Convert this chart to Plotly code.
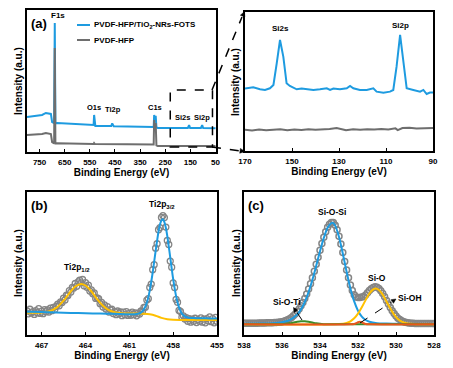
import math
import plotly.graph_objects as go

W, H = 453, 368
FONT = "Liberation Sans"
BLUE = "#1E9BE0"
GRAY = "#6E6E6E"
CIRC = "#858585"
YELL = "#FFC000"
GREEN = "#3C8C2A"
ORNG = "#E8561C"

# ---------------- (a) survey spectra ----------------
survey_fots_be = [800, 780, 760, 740, 725, 715, 705, 700, 695, 692,
                  689.5, 687, 680, 650, 600, 560, 545, 535, 533, 531,
                  528, 500, 465, 461, 457, 455, 400, 350, 300, 296,
                  294, 291, 288, 285, 280, 250, 200, 160, 155, 151,
                  108, 103, 99, 50]
survey_fots_int = [24.6, 25.0, 25.4, 26.1, 27.5, 27.1, 26.8, 21.1, 20.4, 20.4,
                   90.8, 20.3, 20.4, 20.1, 19.7, 19.4, 19.0, 19.0, 26.1, 18.6,
                   18.3, 18.3, 18.3, 20.1, 18.2, 18.1, 18.0, 17.9, 17.6, 17.6,
                   26.1, 21.8, 25.4, 17.3, 16.9, 16.9, 16.9, 16.9, 19.0, 16.9,
                   16.9, 19.0, 16.9, 16.8]
survey_pvdf_be = [800, 760, 740, 725, 712, 705, 700, 695, 692, 689.5,
                  687, 680, 600, 535, 533, 530, 400, 300, 296, 294,
                  291, 288, 285, 280, 50]
survey_pvdf_int = [12.0, 12.3, 12.7, 13.4, 13.0, 12.7, 7.0, 6.3, 6.1, 73.2,
                   6.0, 6.1, 5.8, 5.6, 6.3, 5.6, 5.5, 5.3, 5.3, 22.5,
                   15.5, 20.4, 4.6, 4.2, 4.2]
survey_ticks = [750, 650, 550, 450, 350, 250, 150, 50]

# ---------------- (a) Si region zoom ----------------
si_fots_be = [170, 169.6, 166.5, 163.6, 161.5, 159.4, 157.9, 156.5, 155.1, 153.7,
              152.3, 150.9, 148.0, 145.9, 143.8, 140.9, 138.1, 135.2, 133.8, 132.4,
              129.6, 126.7, 125.3, 123.9, 121.1, 118.2, 115.4, 114.0, 111.1, 108.3,
              106.9, 105.5, 104.0, 102.6, 101.2, 98.4, 95.5, 94.1, 92.7, 91.3, 90]
si_fots_int = [45.0, 45.1, 45.8, 44.4, 43.9, 45.1, 47.5, 63.1, 79.9, 67.9,
               48.7, 46.8, 44.4, 45.0, 44.4, 43.9, 44.4, 45.1, 43.9, 44.9,
               44.4, 45.1, 46.8, 45.1, 43.9, 43.9, 45.1, 42.7, 42.0, 42.7,
               43.9, 60.7, 83.5, 63.1, 45.1, 43.9, 42.7, 43.9, 41.0, 42.0, 42.0]
si_pvdf_be = [170, 167, 164, 161, 158, 155, 152, 149, 146, 143,
              140, 137, 134, 131, 129, 127, 124, 121, 118, 115,
              112, 109, 106, 105, 103, 100, 97, 94, 91, 90]
si_pvdf_int = [15.2, 14.8, 15.4, 15.0, 15.3, 15.6, 15.0, 15.4, 15.1, 15.6,
               15.3, 15.5, 15.8, 16.6, 15.9, 14.9, 15.6, 15.3, 15.7, 15.4,
               15.8, 15.5, 16.3, 15.0, 16.5, 16.8, 16.2, 16.4, 16.6, 16.5]
si_ticks = [170, 150, 130, 110, 90]

# ---------------- (b) Ti 2p ----------------
ti_be = [468.0, 467.9, 467.8, 467.7, 467.6, 467.5, 467.4, 467.3, 467.2, 467.1,
         467.0, 466.9, 466.8, 466.7, 466.6, 466.5, 466.4, 466.3, 466.2, 466.1,
         466.0, 465.9, 465.8, 465.7, 465.6, 465.5, 465.4, 465.3, 465.2, 465.1,
         465.0, 464.9, 464.8, 464.7, 464.6, 464.5, 464.4, 464.3, 464.2, 464.1,
         464.0, 463.9, 463.8, 463.7, 463.6, 463.5, 463.4, 463.3, 463.2, 463.1,
         463.0, 462.9, 462.8, 462.7, 462.6, 462.5, 462.4, 462.3, 462.2, 462.1,
         462.0, 461.9, 461.8, 461.7, 461.6, 461.5, 461.4, 461.3, 461.2, 461.1,
         461.0, 460.9, 460.8, 460.7, 460.6, 460.5, 460.4, 460.3, 460.2, 460.1,
         460.0, 459.9, 459.8, 459.7, 459.6, 459.5, 459.4, 459.3, 459.2, 459.1,
         459.0, 458.9, 458.8, 458.7, 458.6, 458.5, 458.4, 458.3, 458.2, 458.1,
         458.0, 457.9, 457.8, 457.7, 457.6, 457.5, 457.4, 457.3, 457.2, 457.1,
         457.0, 456.9, 456.8, 456.7, 456.6, 456.5, 456.4, 456.3, 456.2, 456.1,
         456.0, 455.9, 455.8, 455.7, 455.6, 455.5, 455.4, 455.3, 455.2, 455.1,
         455.0]
ti_int = [16.8, 14.8, 18.0, 15.5, 16.3, 14.4, 17.1, 15.6, 18.4, 15.1,
          16.7, 14.9, 17.8, 16.3, 17.6, 16.1, 18.8, 17.0, 19.3, 17.8,
          20.1, 21.5, 20.4, 23.1, 22.7, 25.7, 24.5, 27.8, 27.7, 31.1,
          30.0, 33.3, 32.8, 36.0, 34.1, 37.2, 38.3, 36.4, 38.8, 34.4,
          36.6, 33.4, 34.9, 30.7, 31.6, 28.8, 29.4, 25.6, 26.0, 25.4,
          21.9, 22.8, 19.5, 21.0, 18.1, 19.9, 16.0, 17.6, 18.0, 15.0,
          16.3, 14.2, 16.8, 14.9, 16.1, 13.5, 16.0, 14.2, 16.4, 13.7,
          15.1, 13.8, 16.0, 14.2, 15.5, 13.4, 15.3, 14.6, 16.8, 16.5,
          19.3, 19.4, 24.4, 25.4, 33.2, 35.6, 45.7, 49.2, 60.7, 63.8,
          73.6, 75.1, 82.2, 83.5, 82.1, 75.5, 66.1, 63.3, 51.7, 47.4,
          36.4, 33.2, 24.9, 22.9, 17.2, 16.5, 12.4, 13.4, 11.2, 12.2,
          9.6, 11.4, 9.0, 11.0, 9.6, 11.7, 8.7, 10.7, 9.6, 12.0,
          9.0, 11.1, 8.5, 11.5, 9.9, 12.7, 9.3, 11.4, 8.5, 12.3,
          9.5]
ti32_be = [468, 467, 466, 465, 464, 463, 462, 461, 460.5, 460.2,
           460.0, 459.8, 459.6, 459.4, 459.2, 459.0, 458.9, 458.8, 458.7, 458.6,
           458.5, 458.4, 458.2, 458.0, 457.8, 457.6, 457.4, 457.2, 457.0, 456.5,
           456, 455.5, 455]
ti32_fit = [16.3, 16.0, 15.7, 15.4, 15.2, 15.0, 14.8, 14.5, 14.65, 15.7,
            17.9, 22.6, 31.2, 43.7, 58.7, 72.5, 77.4, 80.2, 80.9, 79.0,
            75.0, 69.2, 54.3, 39.2, 27.2, 19.3, 14.9, 13.0, 12.2, 11.8,
            11.7, 11.6, 11.6]
ti12_be = [468, 467.5, 467, 466.5, 466, 465.5, 465, 464.7, 464.3, 464,
           463.6, 463.2, 462.8, 462.4, 462, 461.5, 461, 460.5, 460, 459.6,
           459.2, 458.8, 458.4, 458.0, 457.5, 457, 456, 455]
ti12_fit = [15.6, 15.5, 15.7, 16.5, 19.0, 24.0, 30.6, 33.9, 35.7, 34.6,
            30.6, 25.1, 20.5, 17.4, 15.9, 15.2, 15.0, 14.95, 14.9, 14.5,
            13.5, 12.0, 11.0, 10.6, 10.5, 10.5, 10.5, 10.5]
ti_ticks = [467, 464, 461, 458, 455]

# ---------------- (c) O 1s ----------------
o_be = [538.0, 537.9, 537.8, 537.7, 537.6, 537.5, 537.4, 537.3, 537.2, 537.1,
        537.0, 536.9, 536.8, 536.7, 536.6, 536.5, 536.4, 536.3, 536.2, 536.1,
        536.0, 535.9, 535.8, 535.7, 535.6, 535.5, 535.4, 535.3, 535.2, 535.1,
        535.0, 534.9, 534.8, 534.7, 534.6, 534.5, 534.4, 534.3, 534.2, 534.1,
        534.0, 533.9, 533.8, 533.7, 533.6, 533.5, 533.4, 533.3, 533.2, 533.1,
        533.0, 532.9, 532.8, 532.7, 532.6, 532.5, 532.4, 532.3, 532.2, 532.1,
        532.0, 531.9, 531.8, 531.7, 531.6, 531.5, 531.4, 531.3, 531.2, 531.1,
        531.0, 530.9, 530.8, 530.7, 530.6, 530.5, 530.4, 530.3, 530.2, 530.1,
        530.0, 529.9, 529.8, 529.7, 529.6, 529.5, 529.4, 529.3, 529.2, 529.1,
        529.0, 528.9, 528.8, 528.7, 528.6, 528.5, 528.4, 528.3, 528.2, 528.1,
        528.0]
o_int = [8.2, 8.2, 8.2, 8.2, 8.3, 8.3, 8.3, 8.3, 8.4, 8.4,
         8.4, 8.4, 8.5, 8.5, 8.6, 8.6, 8.7, 8.8, 8.9, 9.1,
         9.3, 9.7, 10.1, 10.7, 11.4, 12.2, 13.4, 14.7, 16.4, 18.2,
         20.4, 22.8, 25.6, 28.6, 32.1, 35.9, 40.1, 44.6, 49.4, 54.3,
         59.2, 63.9, 68.3, 72.2, 75.3, 77.5, 78.6, 78.6, 76.8, 73.6,
         69.0, 63.6, 57.7, 51.4, 45.5, 40.0, 35.0, 31.2, 28.2, 26.6,
         26.2, 26.3, 26.5, 26.9, 27.9, 29.5, 31.1, 32.4, 33.3, 33.7,
         33.4, 32.5, 31.0, 29.1, 26.7, 24.2, 21.7, 19.2, 16.9, 15.0,
         13.3, 11.8, 10.8, 9.9, 9.3, 8.9, 8.6, 8.4, 8.3, 8.2,
         8.1, 8.0, 8.0, 8.0, 8.0, 8.0, 8.0, 8.0, 8.0, 8.0,
         8.0]
sios_be = [538, 537, 536.5, 536, 535.6, 535.2, 535.0, 534.8, 534.6, 534.4,
           534.2, 534.0, 533.8, 533.6, 533.4, 533.3, 533.2, 533.0, 532.8, 532.6,
           532.4, 532.2, 532.0, 531.8, 531.6, 531.4, 531.0, 530.5, 530, 529, 528]
sios_fit = [7.9, 8.1, 8.3, 8.9, 10.4, 14.3, 17.9, 23.1, 30.0, 38.6,
            48.4, 58.6, 67.9, 75.0, 78.3, 78.3, 76.5, 68.6, 57.0, 44.2,
            32.6, 23.5, 17.0, 12.9, 10.5, 9.3, 8.3, 8.0, 7.85, 7.7, 7.65]
sio_be = [538, 533, 532.6, 532.4, 532.2, 532.0, 531.8, 531.6, 531.4, 531.2,
          531.07, 530.9, 530.7, 530.5, 530.3, 530.1, 529.9, 529.7, 529.4, 529, 528]
sio_fit = [7.5, 7.64, 8.47, 9.6, 11.7, 15.0, 19.4, 24.4, 29.0, 31.9,
           32.5, 31.5, 28.2, 23.4, 18.5, 14.3, 11.2, 9.3, 8.0, 7.6, 7.5]
sioti_be = [538, 536.5, 536, 535.8, 535.6, 535.4, 535.2, 535.0, 534.9, 534.8,
            534.6, 534.4, 534.2, 534.0, 533.8, 533.4, 528]
sioti_fit = [7.5, 7.5, 7.6, 7.8, 8.16, 8.69, 9.26, 9.65, 9.7, 9.65,
             9.26, 8.69, 8.16, 7.8, 7.6, 7.5, 7.5]
sioh_be = [538, 532.4, 532.2, 532.1, 532.0, 531.9, 531.8, 531.7, 531.6, 531.4, 528]
sioh_fit = [7.5, 7.5, 7.74, 8.24, 8.94, 9.3, 8.94, 8.24, 7.74, 7.5, 7.5]
o_ticks = [538, 536, 534, 532, 530, 528]


def dx(a, b):
    return [a / W, b / W]


def dy(top, bottom):
    return [1 - bottom / H, 1 - top / H]


def px(x):
    return x / W


def py(y):
    return 1 - y / H


fig = go.Figure()

# (a) survey
fig.add_trace(go.Scatter(x=survey_fots_be, y=survey_fots_int, mode="lines",
                         line=dict(color=BLUE, width=2), xaxis="x", yaxis="y"))
fig.add_trace(go.Scatter(x=survey_pvdf_be, y=survey_pvdf_int, mode="lines",
                         line=dict(color=GRAY, width=2), xaxis="x", yaxis="y"))
# (a) zoom
fig.add_trace(go.Scatter(x=si_fots_be, y=si_fots_int, mode="lines",
                         line=dict(color=BLUE, width=2), xaxis="x2", yaxis="y2"))
fig.add_trace(go.Scatter(x=si_pvdf_be, y=si_pvdf_int, mode="lines",
                         line=dict(color=GRAY, width=2), xaxis="x2", yaxis="y2"))
# (b)
fig.add_trace(go.Scatter(x=ti_be, y=ti_int, mode="markers",
                         marker=dict(symbol="circle-open", size=6, color=CIRC,
                                     line=dict(width=1.3)),
                         xaxis="x3", yaxis="y3"))
fig.add_trace(go.Scatter(x=ti12_be, y=ti12_fit, mode="lines",
                         line=dict(color=YELL, width=2, shape="spline", smoothing=0.8),
                         xaxis="x3", yaxis="y3"))
fig.add_trace(go.Scatter(x=ti32_be, y=ti32_fit, mode="lines",
                         line=dict(color=BLUE, width=2, shape="spline", smoothing=0.8),
                         xaxis="x3", yaxis="y3"))
# (c)
fig.add_trace(go.Scatter(x=o_be, y=o_int, mode="markers",
                         marker=dict(symbol="circle-open", size=6, color=CIRC,
                                     line=dict(width=1.5)),
                         xaxis="x4", yaxis="y4"))
for xs, ys, col in [(sios_be, sios_fit, BLUE), (sio_be, sio_fit, YELL),
                    (sioti_be, sioti_fit, GREEN), (sioh_be, sioh_fit, ORNG)]:
    fig.add_trace(go.Scatter(x=xs, y=ys, mode="lines",
                             line=dict(color=col, width=2, shape="spline", smoothing=0.8),
                             xaxis="x4", yaxis="y4"))

tickfont = dict(family=FONT, size=8, color="black", weight="bold")
titlefont = dict(family=FONT, size=10, color="black", weight="bold")


def xax(dom, rng, ticks, anchor):
    return dict(domain=dom, range=rng, tickvals=ticks, anchor=anchor,
                showline=True, mirror=True, linecolor="black", linewidth=1.5,
                showgrid=False, zeroline=False, ticks="inside", ticklen=3,
                tickwidth=1, tickcolor="black", tickfont=tickfont,
                ticklabeloverflow="allow", ticklabelstandoff=2,
                title=dict(text="Binding Energy (eV)", font=titlefont, standoff=3),
                automargin=False)


def yax(dom, anchor):
    return dict(domain=dom, range=[0, 100], anchor=anchor,
                showline=True, mirror=True, linecolor="black", linewidth=1.5,
                showgrid=False, zeroline=False, ticks="", showticklabels=False,
                automargin=False)


layout = dict(
    width=W, height=H, margin=dict(l=0, r=0, t=0, b=0),
    paper_bgcolor="white", plot_bgcolor="white", showlegend=False,
    font=dict(family=FONT, color="black"),
    xaxis=xax(dx(27, 216), [800, 48], survey_ticks, "y"),
    yaxis=yax(dy(10, 152), "x"),
    xaxis2=xax(dx(245, 433), [170, 90], si_ticks, "y2"),
    yaxis2=yax(dy(12, 151), "x2"),
    xaxis3=xax(dx(27, 217), [468, 455], ti_ticks, "y3"),
    yaxis3=yax(dy(192, 335), "x3"),
    xaxis4=xax(dx(244, 434), [538, 528], o_ticks, "y4"),
    yaxis4=yax(dy(192, 335), "x4"),
)
fig.update_layout(**layout)

shapes = []


def dline(x0, y0, x1, y1, width=1.5, dash="dash", color="black"):
    shapes.append(dict(type="line", xref="paper", yref="paper", x0=px(x0), y0=py(y0),
                       x1=px(x1), y1=py(y1), line=dict(color=color, width=width, dash=dash)))


def head(tx, ty, fx, fy, length=5.0, half=2.4):
    ux, uy = tx - fx, ty - fy
    n = math.hypot(ux, uy)
    ux, uy = ux / n, uy / n
    bx, by = tx - length * ux, ty - length * uy
    nx, ny = -uy, ux
    pts = [(tx, ty), (bx + half * nx, by + half * ny), (bx - half * nx, by - half * ny)]
    path = "M " + " L ".join(f"{px(a):.5f},{py(b):.5f}" for a, b in pts) + " Z"
    shapes.append(dict(type="path", xref="paper", yref="paper", path=path,
                       fillcolor="black", line=dict(color="black", width=0.5)))


# dashed zoom box in (a)
shapes.append(dict(type="rect", xref="x", yref="y", x0=230, x1=62, y0=3.5, y1=43.7,
                   line=dict(color="black", width=1.5, dash="dash")))
dline(212, 90, 242, 17)
head(244.5, 11.5, 212, 90)
dline(212, 147, 239, 150.8)
head(245, 151.5, 212, 147)
# legend line samples
dline(77, 25, 90, 25, width=2, dash="solid", color=BLUE)
dline(77, 40, 90, 40, width=2, dash="solid", color=GRAY)
# (c) dashed pointers
dline(302, 320, 296, 311, width=1)
head(293.5, 307.5, 302, 320, length=4.5, half=2.2)
dline(360, 323, 391, 302.5, width=1)
head(396, 299, 360, 323, length=4.5, half=2.2)
fig.update_layout(shapes=shapes)

ann = []


def txt(x, y, s, size=8, xanchor="center", angle=0):
    ann.append(dict(x=px(x), y=py(y), xref="paper", yref="paper", text=s, showarrow=False,
                    xanchor=xanchor, yanchor="middle", textangle=angle,
                    font=dict(family=FONT, size=size, color="black", weight="bold")))


# y-axis titles
txt(18, 81, "Intensity (a.u.)", 10, angle=-90)
txt(235, 82, "Intensity (a.u.)", 10, angle=-90)
txt(18, 263, "Intensity (a.u.)", 10, angle=-90)
txt(236, 263, "Intensity (a.u.)", 10, angle=-90)

txt(39, 23, "(a)", 13)
txt(39, 205, "(b)", 13)
txt(256, 205, "(c)", 13)
txt(92, 25, "PVDF-HFP/TiO<sub>2</sub>-NRs-FOTS", 8, "left")
txt(92, 40, "PVDF-HFP", 8, "left")
txt(58, 15, "F1s", 8)
txt(94, 107, "O1s", 7.5)
txt(113, 109, "Ti2p", 7.5)
txt(155, 108, "C1s", 7.5)
txt(182, 117, "Si2s", 7.5)
txt(202, 117, "Si2p", 7.5)
txt(280, 29, "Si2s", 8)
txt(400, 25, "Si2p", 8)
txt(162, 204, "Ti2p<sub>3/2</sub>", 8.5)
txt(77, 267, "Ti2p<sub>1/2</sub>", 8.5)
txt(332, 212, "Si-O-Si", 8.5)
txt(377, 278, "Si-O", 8.5)
txt(410, 298, "Si-OH", 8.5)
txt(287, 302, "Si-O-Ti", 8.5)
fig.update_layout(annotations=ann)

fig.write_html("out.html", config={"displayModeBar": False},
               post_script="document.body.style.margin='0';document.body.style.overflow='hidden';")
